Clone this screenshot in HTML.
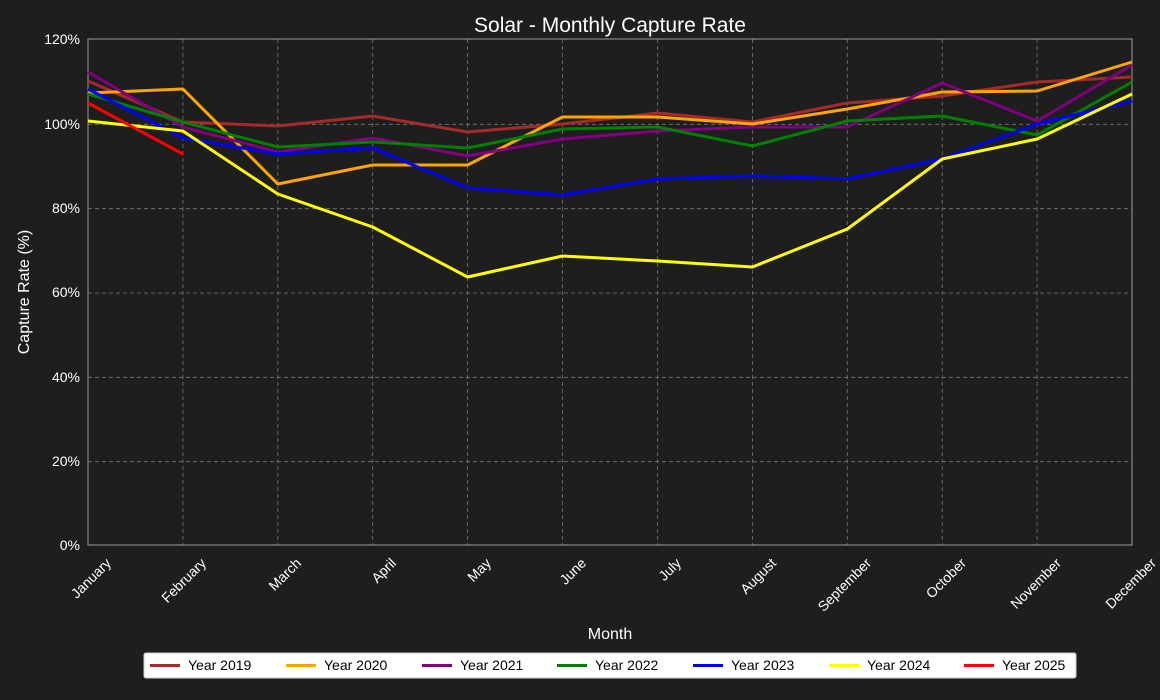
<!DOCTYPE html>
<html><head><meta charset="utf-8"><style>
body{margin:0;background:#1e1e1e;}
svg{display:block;font-family:"Liberation Sans",sans-serif;}
</style></head><body>
<svg width="1160" height="700" viewBox="0 0 1160 700">
<rect width="1160" height="700" fill="#1e1e1e"/>
<text x="610" y="32" fill="#fff" font-size="21" text-anchor="middle">Solar - Monthly Capture Rate</text>
<g stroke="#777" stroke-dasharray="4,3" stroke-width="0.8">
<line x1="88" x2="1132" y1="461.7" y2="461.7"/><line x1="88" x2="1132" y1="377.3" y2="377.3"/>
<line x1="88" x2="1132" y1="293" y2="293"/><line x1="88" x2="1132" y1="208.7" y2="208.7"/>
<line x1="88" x2="1132" y1="124.3" y2="124.3"/>
<line x1="182.9" x2="182.9" y1="39" y2="545"/><line x1="277.8" x2="277.8" y1="39" y2="545"/>
<line x1="372.7" x2="372.7" y1="39" y2="545"/><line x1="467.6" x2="467.6" y1="39" y2="545"/>
<line x1="562.5" x2="562.5" y1="39" y2="545"/><line x1="657.5" x2="657.5" y1="39" y2="545"/>
<line x1="752.4" x2="752.4" y1="39" y2="545"/><line x1="847.3" x2="847.3" y1="39" y2="545"/>
<line x1="942.2" x2="942.2" y1="39" y2="545"/><line x1="1037.1" x2="1037.1" y1="39" y2="545"/>
</g>
<rect x="88" y="39" width="1044" height="506" fill="none" stroke="#999" stroke-width="1"/>
<g fill="#fff" font-size="14" text-anchor="end">
<text x="80" y="550">0%</text><text x="80" y="466">20%</text><text x="80" y="382">40%</text>
<text x="80" y="297">60%</text><text x="80" y="213">80%</text><text x="80" y="129">100%</text><text x="80" y="44">120%</text>
</g>
<g fill="#fff" font-size="14" text-anchor="end">
<text transform="translate(112,564) rotate(-45)">January</text>
<text transform="translate(207,564) rotate(-45)">February</text>
<text transform="translate(302,564) rotate(-45)">March</text>
<text transform="translate(397,564) rotate(-45)">April</text>
<text transform="translate(492,564) rotate(-45)">May</text>
<text transform="translate(587,564) rotate(-45)">June</text>
<text transform="translate(682,564) rotate(-45)">July</text>
<text transform="translate(777,564) rotate(-45)">August</text>
<text transform="translate(872,564) rotate(-45)">September</text>
<text transform="translate(967,564) rotate(-45)">October</text>
<text transform="translate(1062,564) rotate(-45)">November</text>
<text transform="translate(1157,564) rotate(-45)">December</text>
</g>
<text x="610" y="639" fill="#fff" font-size="16" text-anchor="middle">Month</text>
<text transform="translate(29,292) rotate(-90)" fill="#fff" font-size="16" text-anchor="middle">Capture Rate (%)</text>
<g fill="none" stroke-width="3" stroke-linejoin="round">
<polyline stroke="#a52a2a" points="88,81 182.9,122 277.8,126 372.7,116 467.6,132 562.5,124 657.5,113 752.4,122 847.3,103 942.2,96 1037.1,82 1132,77"/>
<polyline stroke="#ffa500" points="88,93 182.9,89 277.8,184 372.7,165 467.6,165 562.5,117 657.5,117 752.4,124 847.3,109 942.2,92 1037.1,91 1132,62"/>
<polyline stroke="#800080" points="88,72 182.9,127 277.8,152 372.7,138 467.6,156 562.5,139 657.5,131 752.4,127 847.3,127 942.2,83 1037.1,121 1132,65"/>
<polyline stroke="#008000" points="88,94 182.9,122 277.8,147 372.7,142 467.6,148 562.5,129 657.5,127 752.4,146 847.3,121 942.2,116 1037.1,135 1132,82"/>
<polyline stroke="#0000ff" points="88,89 182.9,138 277.8,154 372.7,148 467.6,188 562.5,195 657.5,179 752.4,176 847.3,179 942.2,159 1037.1,124 1132,101"/>
<polyline stroke="#ffff00" points="88,121 182.9,131 277.8,194 372.7,227 467.6,277 562.5,256 657.5,261 752.4,267 847.3,229 942.2,159 1037.1,139 1132,94"/>
<polyline stroke="#ff0000" points="88,103 182.9,154"/>
</g>
<rect x="144" y="653" width="932" height="25" fill="#fff" stroke="#ccc" rx="2"/>
<g stroke-width="3">
<line x1="150" x2="180" y1="665.5" y2="665.5" stroke="#a52a2a"/>
<line x1="286" x2="316" y1="665.5" y2="665.5" stroke="#ffa500"/>
<line x1="422" x2="452" y1="665.5" y2="665.5" stroke="#800080"/>
<line x1="557" x2="587" y1="665.5" y2="665.5" stroke="#008000"/>
<line x1="693" x2="723" y1="665.5" y2="665.5" stroke="#0000ff"/>
<line x1="829" x2="859" y1="665.5" y2="665.5" stroke="#ffff00"/>
<line x1="964" x2="994" y1="665.5" y2="665.5" stroke="#ff0000"/>
</g>
<g fill="#000" font-size="14">
<text x="188" y="670">Year 2019</text><text x="324" y="670">Year 2020</text>
<text x="460" y="670">Year 2021</text><text x="595" y="670">Year 2022</text>
<text x="731" y="670">Year 2023</text><text x="867" y="670">Year 2024</text>
<text x="1002" y="670">Year 2025</text>
</g>
</svg>
</body></html>
